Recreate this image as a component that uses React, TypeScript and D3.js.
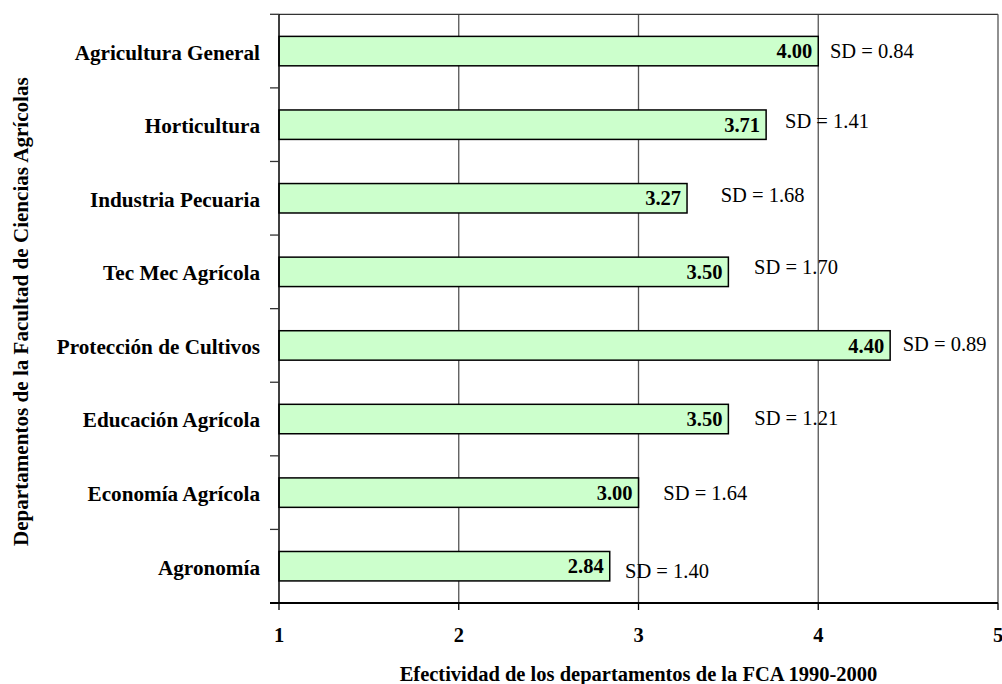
import React from "react";
import * as d3 from "d3";

const categories = [
  "Agricultura General",
  "Horticultura",
  "Industria Pecuaria",
  "Tec Mec Agrícola",
  "Protección de Cultivos",
  "Educación Agrícola",
  "Economía Agrícola",
  "Agronomía",
];
const means = [4.0, 3.71, 3.27, 3.5, 4.4, 3.5, 3.0, 2.84];
const sds = [0.84, 1.41, 1.68, 1.7, 0.89, 1.21, 1.64, 1.4];
// where each "SD = …" annotation starts, in axis units
const sdLabelAt = [4.065, 3.815, 3.457, 3.643, 4.47, 3.644, 3.138, 2.925];
const sdLabelDy = [0, -4, -3, -5.5, -1.5, -1.3, 0, 4.5];
const xTicks = [1, 2, 3, 4, 5];
const xTitle = "Efectividad de los departamentos de la FCA 1990-2000";
const yTitle = "Departamentos de la Facultad de Ciencias Agrícolas";

const W = 1002;
const H = 684;
const M = { left: 279, right: 998, top: 14.3, bottom: 603 };
const FONT = "'Liberation Serif', 'Times New Roman', serif";

export default function App() {
  const x = d3.scaleLinear().domain([1, 5]).range([M.left, M.right]);
  const y = d3
    .scaleBand<string>()
    .domain(categories)
    .range([M.top, M.bottom])
    .paddingInner(0.6)
    .paddingOuter(0.3);
  const boundaries = d3.range(categories.length + 1).map((i) => M.top + i * (M.bottom - M.top) / categories.length);

  return (
    <svg
      width={W}
      height={H}
      style={{ position: "absolute", left: 0, top: 0, background: "#fff" }}
      fontFamily={FONT}
    >
      <rect x={0} y={0} width={W} height={H} fill="#fff" />
      {/* gridlines */}
      {xTicks.slice(1, -1).map((t) => (
        <line key={t} x1={x(t)} x2={x(t)} y1={M.top} y2={M.bottom} stroke="#555" strokeWidth={1.3} />
      ))}
      {/* plot border top & right */}
      <line x1={M.left} x2={M.right} y1={M.top} y2={M.top} stroke="#333" strokeWidth={1.3} />
      <line x1={M.right} x2={M.right} y1={M.top} y2={M.bottom} stroke="#555" strokeWidth={1.3} />
      {/* bars */}
      {categories.map((c, i) => (
        <rect
          key={c}
          x={x(1)}
          y={y(c)!}
          width={x(means[i]) - x(1)}
          height={y.bandwidth()}
          fill="#CCFFCC"
          stroke="#000"
          strokeWidth={1.5}
        />
      ))}
      {/* value labels */}
      {categories.map((c, i) => (
        <text
          key={c}
          x={x(means[i]) - 6}
          y={y(c)! + y.bandwidth() / 2}
          dy="0.35em"
          textAnchor="end"
          fontWeight="bold"
          fontSize={20.5}
        >
          {means[i].toFixed(2)}
        </text>
      ))}
      {/* SD labels */}
      {categories.map((c, i) => (
        <text
          key={c}
          x={x(sdLabelAt[i])}
          y={y(c)! + y.bandwidth() / 2 + sdLabelDy[i]}
          dy="0.35em"
          fontSize={20.5}
        >
          {`SD = ${sds[i].toFixed(2)}`}
        </text>
      ))}
      {/* left axis */}
      <line x1={M.left} x2={M.left} y1={M.top} y2={M.bottom} stroke="#000" strokeWidth={1.5} />
      {boundaries.map((b, i) => (
        <line key={i} x1={M.left - 9} x2={M.left} y1={b} y2={b} stroke="#333" strokeWidth={1.3} />
      ))}
      {categories.map((c) => (
        <text
          key={c}
          x={260}
          y={y(c)! + y.bandwidth() / 2 + 1}
          dy="0.35em"
          textAnchor="end"
          fontWeight="bold"
          fontSize={21.2}
        >
          {c}
        </text>
      ))}
      {/* bottom axis */}
      <line x1={M.left - 9} x2={M.right} y1={M.bottom} y2={M.bottom} stroke="#000" strokeWidth={2} />
      {xTicks.map((t) => (
        <g key={t}>
          <line x1={x(t)} x2={x(t)} y1={M.bottom} y2={M.bottom + 7} stroke="#000" strokeWidth={1.3} />
          <text x={x(t)} y={635} dy="0.35em" textAnchor="middle" fontWeight="bold" fontSize={20.5}>
            {t}
          </text>
        </g>
      ))}
      <text
        x={(M.left + M.right) / 2}
        y={674}
        dy="0.35em"
        textAnchor="middle"
        fontWeight="bold"
        fontSize={20.5}
      >
        {xTitle}
      </text>
      <text
        transform={`translate(21, ${(M.top + M.bottom) / 2 + 3}) rotate(-90)`}
        dy="0.35em"
        textAnchor="middle"
        fontWeight="bold"
        fontSize={21.1}
      >
        {yTitle}
      </text>
    </svg>
  );
}
